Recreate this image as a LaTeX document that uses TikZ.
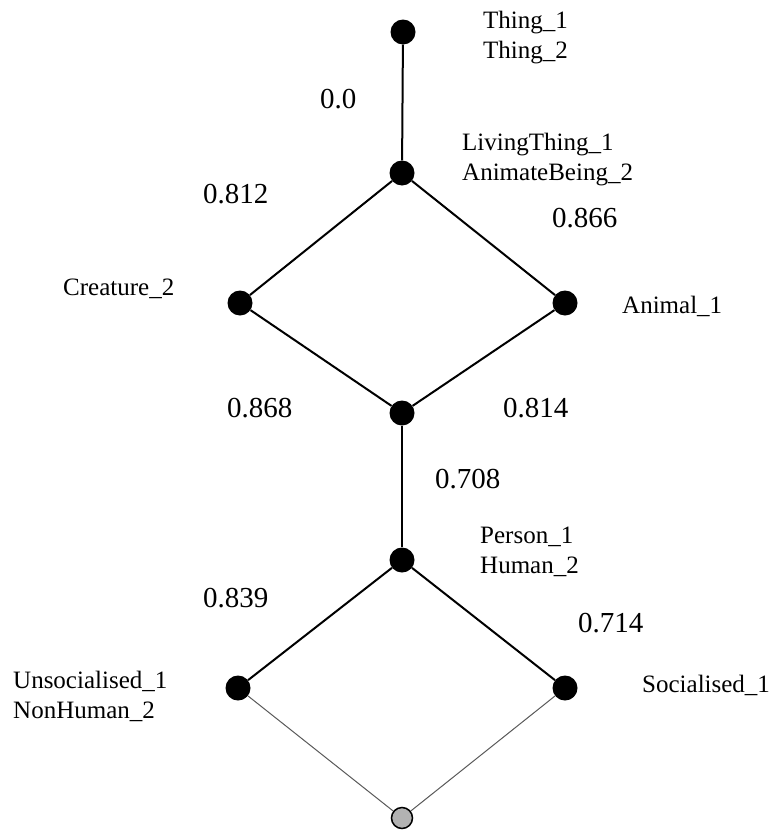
\documentclass[tikz,border=0pt]{standalone}
\usepackage{fontspec}
\setmainfont{Liberation Serif}
\begin{document}
\begin{tikzpicture}[x=1pt,y=-1pt,
    dot/.style={circle,fill=black,inner sep=0pt,minimum size=25pt},
    botdot/.style={circle,draw=black,line width=1.5pt,fill=gray!60,inner sep=0pt,minimum size=21pt},
    lbl/.style={anchor=base west,inner sep=0pt,align=left,font=\fontsize{25}{30}\selectfont},
    num/.style={anchor=base west,inner sep=0pt,font=\fontsize{29}{32}\selectfont},
    link/.style={line width=2pt},
    faint/.style={line width=1pt,gray!70!black}]
    \useasboundingbox (0,0) rectangle (777,830);
    % lattice points
    \node[dot] (thing) at (403,32) {};
    \node[dot] (living) at (402,173) {};
    \node[dot] (creature) at (240,303) {};
    \node[dot] (animal) at (565,303) {};
    \node[dot] (meet) at (402,413) {};
    \node[dot] (person) at (402,560) {};
    \node[dot] (unsoc) at (238,688) {};
    \node[dot] (soc) at (565,688) {};
    \node[botdot] (bottom) at (402,818) {};
    % links
    \draw[link] (thing) -- (living);
    \draw[link] (living) -- (creature);
    \draw[link] (living) -- (animal);
    \draw[link] (creature) -- (meet);
    \draw[link] (animal) -- (meet);
    \draw[link] (meet) -- (person);
    \draw[link] (person) -- (unsoc);
    \draw[link] (person) -- (soc);
    \draw[faint] (unsoc) -- (bottom);
    \draw[faint] (soc) -- (bottom);
    % concept names (base = last line)
    \node[lbl] (thingtxt) at (483,58) {Thing\_1\\Thing\_2};
    \node[lbl] (livingtxt) at (462,180) {LivingThing\_1\\AnimateBeing\_2};
    \node[lbl] (creaturetxt) at (63,295) {Creature\_2};
    \node[lbl] (animaltxt) at (622,313) {Animal\_1};
    \node[lbl] (persontxt) at (480,573) {Person\_1\\Human\_2};
    \node[lbl] (unsoctxt) at (13,718) {Unsocialised\_1\\NonHuman\_2};
    \node[lbl] (soctxt) at (642,692) {Socialised\_1};
    % similarity values
    \node[num] (v1) at (320,108) {0.0};
    \node[num] (v2) at (203,203) {0.812};
    \node[num] (v3) at (552,227) {0.866};
    \node[num] (v4) at (227,417) {0.868};
    \node[num] (v5) at (503,417) {0.814};
    \node[num] (v6) at (435,488) {0.708};
    \node[num] (v7) at (203,607) {0.839};
    \node[num] (v8) at (578,632) {0.714};
\end{tikzpicture}
\end{document}
